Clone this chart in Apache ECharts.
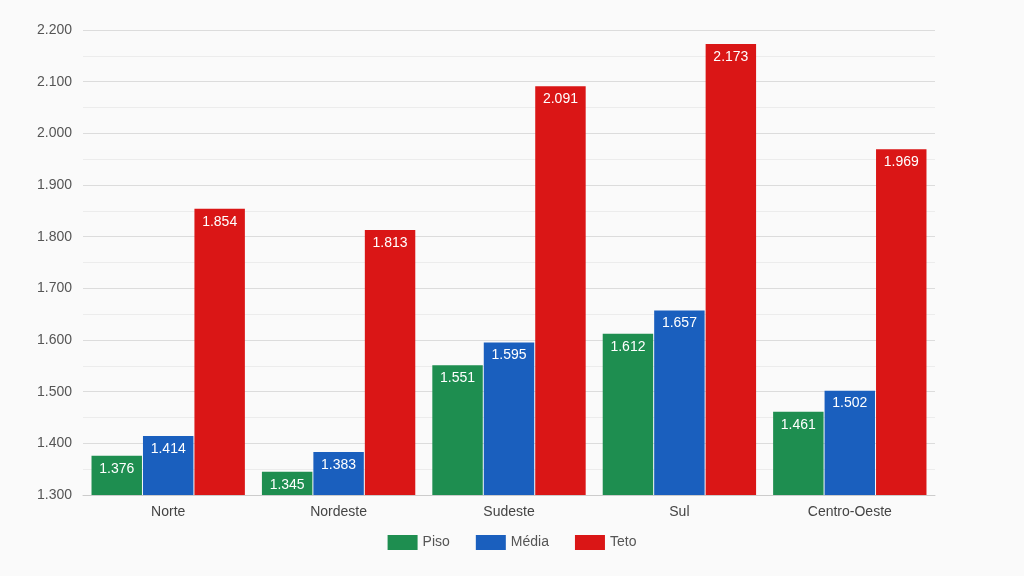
<!DOCTYPE html>
<html>
<head>
<meta charset="utf-8">
<script src="https://cdn.jsdelivr.net/npm/echarts@6/dist/echarts.min.js"></script>
<style>html,body{margin:0;padding:0;background:#fafafa;}#c{width:1024px;height:576px;}</style>
</head>
<body>
<div id="c"></div>
<script>
const categories = ['Norte', 'Nordeste', 'Sudeste', 'Sul', 'Centro-Oeste'];
const piso = [1376, 1345, 1551, 1612, 1461];
const media = [1414, 1383, 1595, 1657, 1502];
const teto = [1854, 1813, 2091, 2173, 1969];
const fmt = v => {
  const s = String(Math.round(v));
  return s.replace(/\B(?=(\d{3})+(?!\d))/g, '.');
};
const FONT = '"Liberation Sans", Arial, sans-serif';
const chart = echarts.init(document.getElementById('c'));
const lbl = {show: true, position: 'insideTop', distance: 6, color: '#fff', fontSize: 14, fontFamily: FONT, formatter: p => fmt(p.value)};
chart.setOption({
  backgroundColor: '#fafafa',
  animation: false,
  grid: {left: 83, right: 89, top: 30, bottom: 81},
  legend: {
    bottom: 21, itemWidth: 30, itemHeight: 15, itemGap: 26,
    textStyle: {color: '#555', fontSize: 14, fontFamily: FONT},
    icon: 'rect'
  },
  xAxis: {
    type: 'category', data: categories,
    axisLine: {lineStyle: {color: '#ccc'}},
    axisTick: {show: false},
    axisLabel: {color: '#444', fontSize: 14, fontFamily: FONT, margin: 10}
  },
  yAxis: {
    type: 'value', min: 1300, max: 2200, interval: 100,
    axisLine: {show: false}, axisTick: {show: false},
    axisLabel: {color: '#555', fontSize: 14, fontFamily: FONT, formatter: v => fmt(v), margin: 11},
    splitLine: {lineStyle: {color: '#dcdcdc'}},
    minorTick: {show: false, splitNumber: 2},
    minorSplitLine: {show: true, lineStyle: {color: '#ececec'}}
  },
  series: [
    {name: 'Piso', type: 'bar', data: piso, itemStyle: {color: '#1e8e50'}, label: lbl, barGap: '2%', barCategoryGap: '10%'},
    {name: 'Média', type: 'bar', data: media, itemStyle: {color: '#1a5fbe'}, label: lbl},
    {name: 'Teto', type: 'bar', data: teto, itemStyle: {color: '#da1616'}, label: lbl}
  ]
});
</script>
</body>
</html>
